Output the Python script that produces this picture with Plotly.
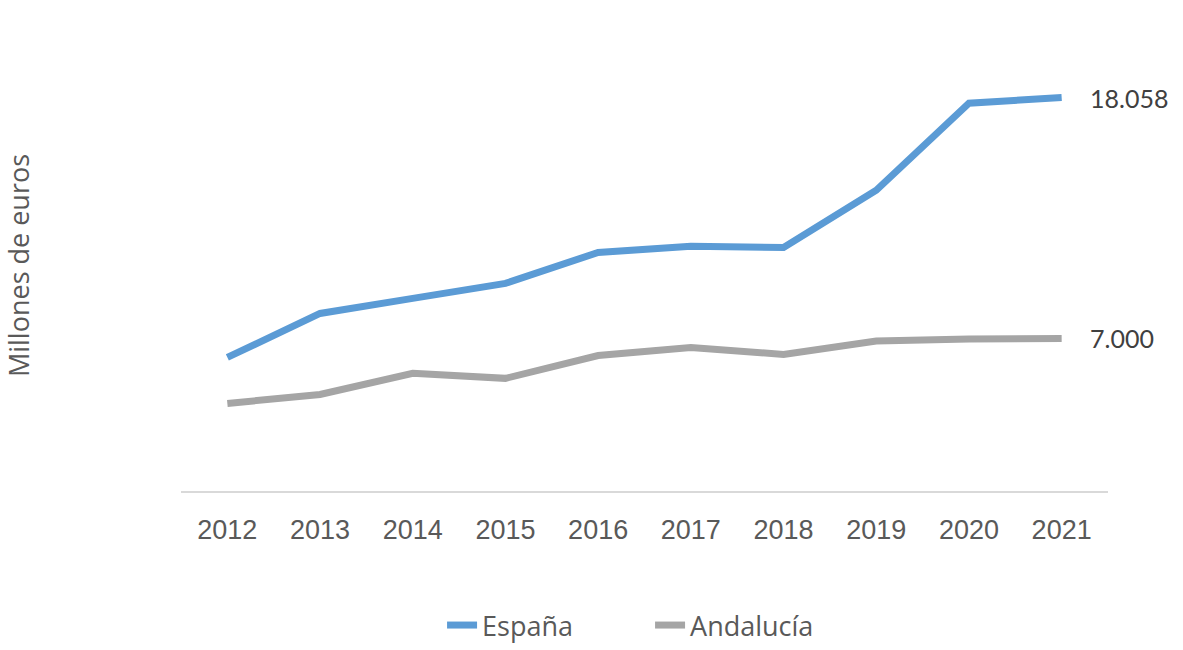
import plotly.graph_objects as go

years = ["2012", "2013", "2014", "2015", "2016", "2017", "2018", "2019", "2020", "2021"]
espana = [6130, 8150, 8840, 9530, 10950, 11230, 11180, 13800, 17800, 18058]
andalucia = [4020, 4430, 5400, 5170, 6220, 6590, 6270, 6880, 6980, 7000]

series_names = ["España", "Andalucía"]
colors = ["#5B9BD5", "#A5A5A5"]

def fmt(v):
    return f"{v:,.0f}".replace(",", ".")

fig = go.Figure()
for name, vals, col in zip(series_names, [espana, andalucia], colors):
    fig.add_trace(go.Scatter(x=years, y=vals, name=name, mode="lines",
                             line=dict(color=col, width=7)))
    fig.add_annotation(x=len(years) - 1, y=vals[-1], xref="x", yref="y",
                       text=fmt(vals[-1]), showarrow=False, xanchor="left",
                       yanchor="middle", xshift=26,
                       font=dict(family="Lato", size=25, color="#404040"))

fig.update_layout(
    width=1183, height=650, autosize=False,
    paper_bgcolor="white", plot_bgcolor="white",
    margin=dict(l=181, r=75, t=40, b=159, autoexpand=False),
    showlegend=True,
    legend=dict(orientation="h", x=0.506, xanchor="center",
                y=0.0, yanchor="bottom", yref="container",
                entrywidth=163, entrywidthmode="pixels",
                font=dict(family="Open Sans", size=27, color="#595959"), itemwidth=30),
    xaxis=dict(type="category", range=[-0.5, len(years) - 0.5], autorange=False,
               automargin=False,
               showline=True, linecolor="#D9D9D9", linewidth=2,
               showgrid=False, ticks="outside", ticklen=14, tickcolor="rgba(0,0,0,0)",
               tickfont=dict(family="Liberation Sans", size=27, color="#595959")),
    yaxis=dict(range=[0, 20700], autorange=False, automargin=False,
               showgrid=False, showticklabels=False,
               zeroline=False, showline=False, ticks="",
               title=dict(text="Millones de euros", standoff=150,
                          font=dict(family="Open Sans", size=27, color="#595959"))),
)
fig.write_html("out.html", config={"displayModeBar": False},
               post_script="document.body.style.margin='0';document.body.style.overflow='hidden';")
